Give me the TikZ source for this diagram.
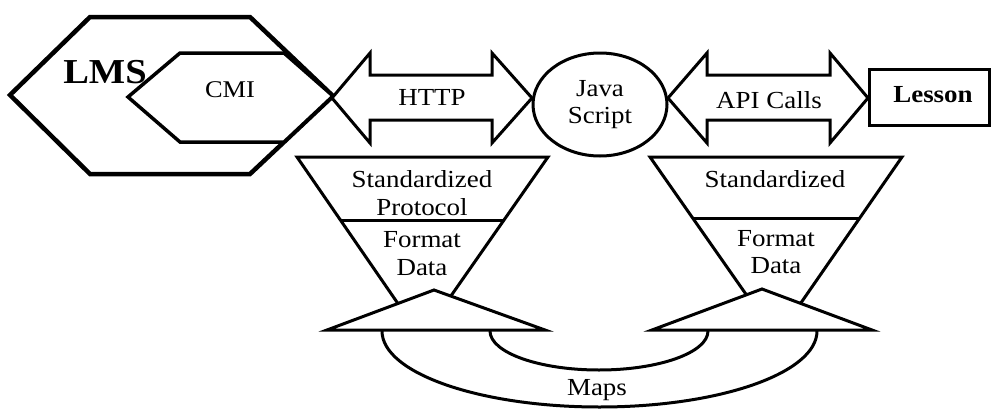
\documentclass[tikz,border=0pt]{standalone}
\usepackage{fontspec}
\setmainfont{Liberation Serif}[FakeStretch=1.1]
\usetikzlibrary{shapes.geometric}
\begin{document}
\begin{tikzpicture}[x=1pt,y=-1pt,line join=miter,
  shp/.style={draw=black,line width=3pt,fill=white},
  txt/.style={anchor=base,inner sep=0pt,font=\fontsize{24.5}{29}\selectfont},
  arc/.style={draw=black,line width=3pt}]
\useasboundingbox (0,0) rectangle (994,410);
% LMS / CMI hexagons
\draw[shp,line width=4.5pt] (10,95) -- (90,17) -- (250,17) -- (333,96) -- (250,174) -- (90,174) -- cycle;
\draw[shp,line width=3.5pt] (128,97) -- (180,53) -- (284,53) -- (333,96) -- (284,142) -- (180,142) -- cycle;
\node[txt,font=\fontsize{35}{40}\selectfont\bfseries] (lms) at (105,83) {LMS};
\node[txt,font=\fontsize{24}{28}\selectfont] (cmi) at (230,97) {CMI};
% HTTP double arrow
\draw[shp] (332,98) -- (370,53) -- (370,75) -- (492,75) -- (492,53) -- (532,98) -- (492,143) -- (492,120) -- (370,120) -- (370,143) -- cycle;
\node[txt] (http) at (432,105) {HTTP};
% API double arrow
\draw[shp] (668,98) -- (707,53) -- (707,75) -- (830,75) -- (830,53) -- (868,98) -- (830,143) -- (830,120) -- (707,120) -- (707,143) -- cycle;
\node[txt] (api) at (769,108) {API Calls};
% Java Script ellipse
\node[shp,ellipse,minimum width=134pt,minimum height=103pt,inner sep=0pt] (js) at (600,104.5) {};
\node[txt] (jsa) at (600,96) {Java};
\node[txt] (jsb) at (600,123) {Script};
% Lesson box
\node[shp,rectangle,minimum width=120pt,minimum height=56pt,inner sep=0pt] (lesson) at (929.5,97.5) {};
\node[txt,font=\fontsize{24.5}{29}\selectfont\bfseries] (lessont) at (933,102) {Lesson};
% funnels (open, ending inside the triangles)
\draw[arc] (401,308) -- (297,157) -- (548,157) -- (446,303);
\draw[arc] (340.5,220) -- (504,220);
\draw[arc] (750,300) -- (650,157) -- (902,157) -- (796,310);
\draw[arc] (693,218) -- (860,218);
% maps arcs
\draw[arc] (490,331) .. controls (490,352.5) and (538.8,370) .. (599,370) .. controls (659.2,370) and (708,352.5) .. (708,331);
\draw[arc] (382,331) .. controls (382,373) and (479.5,407) .. (599.5,407) .. controls (719.5,407) and (817,373) .. (817,331);
% triangles
\draw[shp] (327,330) -- (434,290) -- (545,330) -- cycle;
\draw[shp] (652,330) -- (762,289) -- (872,330) -- cycle;
% funnel texts
\node[txt] (ls) at (422,187) {Standardized};
\node[txt] (lp) at (422,215) {Protocol};
\node[txt] (lf) at (422,247) {Format};
\node[txt] (ld) at (422,275) {Data};
\node[txt] (rs) at (775,187) {Standardized};
\node[txt] (rf) at (776,246) {Format};
\node[txt] (rd) at (776,273) {Data};
\node[txt] (maps) at (597,395) {Maps};
\end{tikzpicture}
\end{document}
